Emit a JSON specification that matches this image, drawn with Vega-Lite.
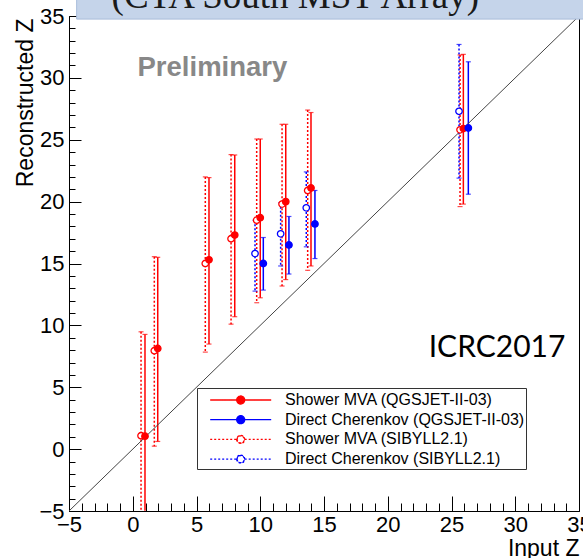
{
  "$schema": "https://vega.github.io/schema/vega-lite/v6.json",
  "width": 510,
  "height": 495,
  "autosize": {"type": "none"},
  "padding": {"left": 69, "top": 16, "right": 4, "bottom": 47},
  "background": "white",
  "resolve": {"axis": {"x": "independent", "y": "independent"}},
  "config": {
    "view": {"stroke": "black", "strokeWidth": 1},
    "axis": {
      "grid": false,
      "domainColor": "black",
      "tickColor": "black",
      "labelFont": "Liberation Sans",
      "labelFontSize": 22,
      "labelColor": "black",
      "titleFont": "Liberation Sans",
      "titleFontSize": 23,
      "titleFontWeight": "normal",
      "titleColor": "black"
    },
    "legend": {
      "orient": "none", "legendX": 128, "legendY": 372, "title": null,
      "padding": 1, "strokeColor": "#333333", "fillColor": "white",
      "symbolSize": 400, "symbolStrokeWidth": 1.3, "symbolOffset": 31.7,
      "labelOffset": 33.3, "rowPadding": 0.7, "symbolOpacity": 1,
      "labelFont": "Liberation Sans", "labelFontSize": 16, "labelColor": "black", "labelLimit": 0
    }
  },
  "data": {
    "values": [
      {"series": "Shower MVA (SIBYLL2.1)", "x": 0.65, "y": 1.08, "lo": -4.98, "hi": 9.48},
      {"series": "Shower MVA (SIBYLL2.1)", "x": 1.69, "y": 7.95, "lo": 0.24, "hi": 15.55},
      {"series": "Shower MVA (SIBYLL2.1)", "x": 5.69, "y": 15.0, "lo": 7.84, "hi": 22.0},
      {"series": "Shower MVA (SIBYLL2.1)", "x": 7.71, "y": 17.0, "lo": 10.1, "hi": 23.8},
      {"series": "Shower MVA (SIBYLL2.1)", "x": 9.72, "y": 18.5, "lo": 11.83, "hi": 25.06},
      {"series": "Shower MVA (SIBYLL2.1)", "x": 11.71, "y": 19.8, "lo": 13.18, "hi": 26.25},
      {"series": "Shower MVA (SIBYLL2.1)", "x": 13.72, "y": 20.9, "lo": 14.45, "hi": 27.4},
      {"series": "Shower MVA (SIBYLL2.1)", "x": 25.67, "y": 25.8, "lo": 19.6, "hi": 31.85},
      {"series": "Direct Cherenkov (SIBYLL2.1)", "x": 9.59, "y": 15.8, "lo": 12.77, "hi": 18.5},
      {"series": "Direct Cherenkov (SIBYLL2.1)", "x": 11.6, "y": 17.4, "lo": 14.8, "hi": 19.9},
      {"series": "Direct Cherenkov (SIBYLL2.1)", "x": 13.61, "y": 19.5, "lo": 16.35, "hi": 22.4},
      {"series": "Direct Cherenkov (SIBYLL2.1)", "x": 25.59, "y": 27.3, "lo": 21.9, "hi": 32.7},
      {"series": "Shower MVA (QGSJET-II-03)", "x": 0.96, "y": 1.05, "lo": -4.98, "hi": 9.27},
      {"series": "Shower MVA (QGSJET-II-03)", "x": 1.96, "y": 8.14, "lo": 0.62, "hi": 15.5},
      {"series": "Shower MVA (QGSJET-II-03)", "x": 5.98, "y": 15.3, "lo": 8.49, "hi": 21.94},
      {"series": "Shower MVA (QGSJET-II-03)", "x": 8.0, "y": 17.3, "lo": 10.7, "hi": 23.77},
      {"series": "Shower MVA (QGSJET-II-03)", "x": 10.0, "y": 18.7, "lo": 12.23, "hi": 25.06},
      {"series": "Shower MVA (QGSJET-II-03)", "x": 12.0, "y": 20.0, "lo": 13.7, "hi": 26.25},
      {"series": "Shower MVA (QGSJET-II-03)", "x": 13.98, "y": 21.1, "lo": 14.8, "hi": 27.2},
      {"series": "Shower MVA (QGSJET-II-03)", "x": 25.93, "y": 25.9, "lo": 19.8, "hi": 31.9},
      {"series": "Direct Cherenkov (QGSJET-II-03)", "x": 10.24, "y": 15.0, "lo": 12.85, "hi": 17.1},
      {"series": "Direct Cherenkov (QGSJET-II-03)", "x": 12.25, "y": 16.5, "lo": 14.15, "hi": 18.8},
      {"series": "Direct Cherenkov (QGSJET-II-03)", "x": 14.29, "y": 18.2, "lo": 15.4, "hi": 20.9},
      {"series": "Direct Cherenkov (QGSJET-II-03)", "x": 26.32, "y": 25.95, "lo": 20.6, "hi": 31.3}
    ]
  },
  "layer": [
    {
      "mark": {"type": "rule", "strokeWidth": 1.5, "clip": true},
      "encoding": {
        "x": {
          "field": "x", "type": "quantitative",
          "scale": {"domain": [-5, 35], "nice": false, "zero": false},
          "axis": {
            "orient": "bottom",
            "values": [-5, 0, 5, 10, 15, 20, 25, 30, 35],
            "tickSize": -15,
            "labelPadding": 18,
            "labelFlush": false,
            "labelOverlap": false,
            "title": "Input Z",
            "titleAnchor": "end",
            "titleAlign": "right",
            "titleX": 510,
            "titleY": 44,
            "titleBaseline": "alphabetic"
          }
        },
        "y": {
          "field": "hi", "type": "quantitative",
          "scale": {"domain": [-5, 35], "nice": false, "zero": false},
          "axis": {
            "orient": "left",
            "values": [-5, 0, 5, 10, 15, 20, 25, 30, 35],
            "tickSize": -12,
            "labelPadding": 17,
            "labelFlush": false,
            "labelOverlap": false,
            "title": "Reconstructed Z",
            "titleAngle": -90,
            "titleAnchor": "end",
            "titleAlign": "right",
            "titleX": -37,
            "titleY": 2,
            "titleBaseline": "alphabetic"
          }
        },
        "y2": {"field": "lo"},
        "stroke": {
          "field": "series", "type": "nominal",
          "scale": {
            "domain": ["Shower MVA (QGSJET-II-03)", "Direct Cherenkov (QGSJET-II-03)", "Shower MVA (SIBYLL2.1)", "Direct Cherenkov (SIBYLL2.1)"],
            "range": ["#ff0000", "#0000ff", "#ff0000", "#0000ff"]
          },
          "legend": {"orient": "none", "legendX": 128, "legendY": 372, "title": null, "symbolOpacity": 1}
        },
        "strokeDash": {
          "field": "series", "type": "nominal",
          "scale": {
            "domain": ["Shower MVA (QGSJET-II-03)", "Direct Cherenkov (QGSJET-II-03)", "Shower MVA (SIBYLL2.1)", "Direct Cherenkov (SIBYLL2.1)"],
            "range": [[1, 0], [1, 0], [2, 2], [2, 2]]
          },
          "legend": {"orient": "none", "legendX": 128, "legendY": 372, "title": null, "symbolOpacity": 1}
        }
      }
    },
    {
      "mark": {"type": "tick", "orient": "horizontal", "size": 5, "thickness": 1.2, "clip": true},
      "encoding": {
        "x": {
          "field": "x", "type": "quantitative",
          "axis": {
            "orient": "bottom",
            "values": [-4,-3,-2,-1,1,2,3,4,6,7,8,9,11,12,13,14,16,17,18,19,21,22,23,24,26,27,28,29,31,32,33,34],
            "tickSize": -8, "labels": false, "domain": false, "title": null
          }
        },
        "y": {
          "field": "hi", "type": "quantitative",
          "axis": {
            "orient": "left",
            "values": [-4,-3,-2,-1,1,2,3,4,6,7,8,9,11,12,13,14,16,17,18,19,21,22,23,24,26,27,28,29,31,32,33,34],
            "tickSize": -6, "labels": false, "domain": false, "title": null
          }
        },
        "color": {
          "field": "series", "type": "nominal", "legend": null,
          "scale": {
            "domain": ["Shower MVA (QGSJET-II-03)", "Direct Cherenkov (QGSJET-II-03)", "Shower MVA (SIBYLL2.1)", "Direct Cherenkov (SIBYLL2.1)"],
            "range": ["#ff0000", "#0000ff", "#ff0000", "#0000ff"]
          }
        }
      }
    },
    {
      "transform": [{"filter": "datum.lo > -4"}],
      "mark": {"type": "tick", "orient": "horizontal", "size": 5, "thickness": 1.2, "clip": true},
      "encoding": {
        "x": {"field": "x", "type": "quantitative", "axis": null},
        "y": {"field": "lo", "type": "quantitative", "axis": null},
        "color": {"field": "series", "type": "nominal", "legend": null}
      }
    },
    {
      "data": {"values": [{}]},
      "mark": {"type": "rule", "color": "#444444", "strokeWidth": 1, "clip": true},
      "encoding": {
        "x": {"datum": -5, "type": "quantitative", "axis": null},
        "y": {"datum": -5, "type": "quantitative", "axis": null},
        "x2": {"datum": 35},
        "y2": {"datum": 35}
      }
    },
    {
      "mark": {"type": "point", "opacity": 0, "clip": true},
      "encoding": {
        "x": {"field": "x", "type": "quantitative", "axis": null},
        "y": {"field": "y", "type": "quantitative", "axis": null},
        "shape": {
          "field": "series", "type": "nominal",
          "scale": {
            "domain": ["Shower MVA (QGSJET-II-03)", "Direct Cherenkov (QGSJET-II-03)", "Shower MVA (SIBYLL2.1)", "Direct Cherenkov (SIBYLL2.1)"],
            "range": [
              "M-3.05,0H-0.4M0.4,0H3.05M-0.4,0A0.4,0.4,0,1,0,0.4,0A0.4,0.4,0,1,0,-0.4,0Z",
              "M-3.05,0H-0.4M0.4,0H3.05M-0.4,0A0.4,0.4,0,1,0,0.4,0A0.4,0.4,0,1,0,-0.4,0Z",
              "M-3.05,0H-0.4M0.4,0H3.05M-0.4,0A0.4,0.4,0,1,0,0.4,0A0.4,0.4,0,1,0,-0.4,0ZM-0.36,0A0.36,0.36,0,1,1,0.36,0A0.36,0.36,0,1,1,-0.36,0Z",
              "M-3.05,0H-0.4M0.4,0H3.05M-0.4,0A0.4,0.4,0,1,0,0.4,0A0.4,0.4,0,1,0,-0.4,0ZM-0.36,0A0.36,0.36,0,1,1,0.36,0A0.36,0.36,0,1,1,-0.36,0Z"
            ]
          },
          "legend": {"orient": "none", "legendX": 128, "legendY": 372, "title": null, "symbolOpacity": 1}
        }
      }
    },
    {
      "mark": {"type": "point", "shape": "circle", "size": 42, "strokeWidth": 1.3, "opacity": 1, "fillOpacity": 1, "clip": true},
      "encoding": {
        "x": {"field": "x", "type": "quantitative", "axis": null},
        "y": {"field": "y", "type": "quantitative", "axis": null},
        "stroke": {"field": "series", "type": "nominal"},
        "fill": {
          "field": "series", "type": "nominal",
          "scale": {
            "domain": ["Shower MVA (QGSJET-II-03)", "Direct Cherenkov (QGSJET-II-03)", "Shower MVA (SIBYLL2.1)", "Direct Cherenkov (SIBYLL2.1)"],
            "range": ["#ff0000", "#0000ff", "#ffffff", "#ffffff"]
          },
          "legend": {"orient": "none", "legendX": 128, "legendY": 372, "title": null, "symbolOpacity": 1}
        }
      }
    },
    {
      "data": {"values": [{}]},
      "mark": {"type": "rect", "color": "#c5d4ea", "stroke": "#a9bddb", "strokeWidth": 1, "clip": false},
      "encoding": {
        "x": {"datum": -4.4, "type": "quantitative", "axis": null},
        "x2": {"datum": 37},
        "y": {"datum": 34.75, "type": "quantitative", "axis": null},
        "y2": {"datum": 37.5}
      }
    },
    {
      "data": {"values": [{}]},
      "mark": {"type": "text", "text": "(CTA South MST Array)", "font": "Liberation Serif", "fontSize": 37, "color": "#1a1a1a", "align": "center", "baseline": "alphabetic", "clip": false},
      "encoding": {
        "x": {"datum": 12.75, "type": "quantitative", "axis": null},
        "y": {"datum": 35.65, "type": "quantitative", "axis": null}
      }
    },
    {
      "data": {"values": [{}]},
      "mark": {"type": "text", "text": "Preliminary", "font": "Liberation Sans", "fontSize": 27.5, "fontWeight": "bold", "color": "#888888", "align": "center", "baseline": "middle"},
      "encoding": {
        "x": {"datum": 6.25, "type": "quantitative", "axis": null},
        "y": {"datum": 30.76, "type": "quantitative", "axis": null}
      }
    },
    {
      "data": {"values": [{}]},
      "mark": {"type": "text", "text": "ICRC2017", "font": "Lato", "fontSize": 30, "color": "black", "align": "center", "baseline": "middle"},
      "encoding": {
        "x": {"datum": 28.57, "type": "quantitative", "axis": null},
        "y": {"datum": 8.21, "type": "quantitative", "axis": null}
      }
    }
  ]
}
